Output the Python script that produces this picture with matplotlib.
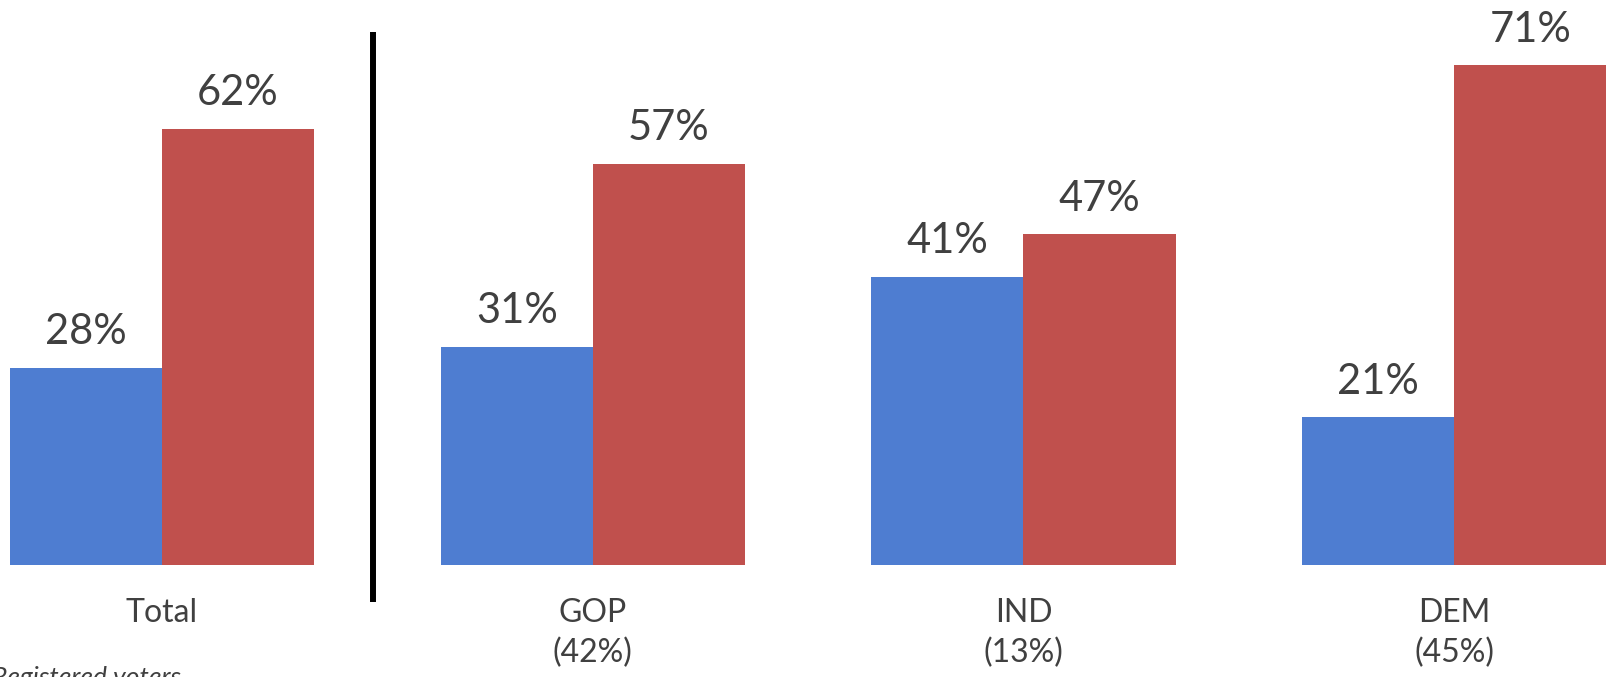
import matplotlib.pyplot as plt
import matplotlib.transforms as mtransforms
import numpy as np

# Datos
categorias = ["Total", "GOP\n(42%)", "IND\n(13%)", "DEM\n(45%)"]
serie_azul = [28, 31, 41, 21]
serie_roja = [62, 57, 47, 71]
nota = "Registered voters"

plt.rcParams['font.family'] = ['Lato', 'DejaVu Sans']

azul = "#4E7DD1"
rojo = "#C0504D"
gris = "#404040"

fig = plt.figure(figsize=(16.08, 6.77), dpi=100)
ax = fig.add_axes([0, 112 / 677, 1, 565 / 677])

x = np.arange(len(categorias))
ancho = 0.353

b1 = ax.bar(x - ancho / 2, serie_azul, ancho, color=azul)
b2 = ax.bar(x + ancho / 2, serie_roja, ancho, color=rojo)

for barras in (b1, b2):
    ax.bar_label(barras, labels=[f"{v}%" for v in barras.datavalues],
                 padding=12, fontsize=30, color=gris)

ax.set_xlim(-0.376, 3.357)
ax.set_ylim(0, 80.3)

ax.set_xticks(x)
ax.set_xticklabels(categorias, fontsize=23, color=gris, linespacing=1.4)
ax.tick_params(axis='x', length=0, pad=24)
ax.set_yticks([])
for s in ax.spines.values():
    s.set_visible(False)

# linea separadora
trans = mtransforms.blended_transform_factory(ax.transData, ax.transAxes)
ax.plot([0.49, 0.49], [0.943, -0.0655], color="black", lw=4.3,
        transform=trans, clip_on=False, solid_capstyle='butt')

fig.text(-0.005, -0.012, nota, fontsize=19, style='italic', color=gris,
         ha='left', va='baseline')

fig.savefig("out.png", dpi=100)
